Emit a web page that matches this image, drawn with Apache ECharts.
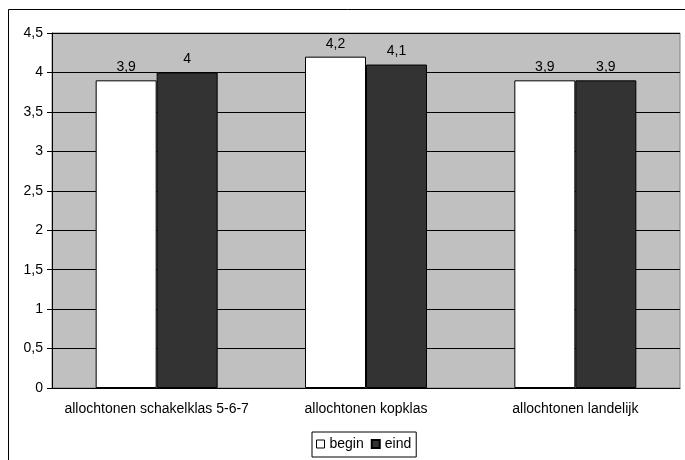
<!DOCTYPE html>
<html><head><meta charset="utf-8">
<script src="https://cdn.jsdelivr.net/npm/echarts@6/dist/echarts.min.js"></script>
<style>html,body{margin:0;padding:0;background:#fff}#c{width:685px;height:460px}</style>
</head><body><div id="c"></div>
<script>
const categories = ['allochtonen schakelklas 5-6-7', 'allochtonen kopklas', 'allochtonen landelijk'];
const beginValues = [3.9, 4.2, 3.9];
const eindValues = [4.0, 4.1, 3.9];
const seriesNames = ['begin', 'eind'];

const fmt = v => String(v).replace('.', ',');
const font = 'Liberation Sans, Arial, sans-serif';
const fs = 14;
const chart = echarts.init(document.getElementById('c'), null, {renderer: 'canvas'});
chart.setOption({
  animation: false,
  backgroundColor: '#fff',
  textStyle: {fontFamily: font},
  graphic: [{type: 'rect', shape: {x: 8.5, y: 9.5, width: 800, height: 600}, style: {fill: 'none', stroke: '#000', lineWidth: 1}, z: 0}],
  grid: {left: 52, right: 5, top: 33, bottom: 72, show: true, backgroundColor: '#c0c0c0', borderColor: '#808080', borderWidth: 1},
  legend: {
    top: 432, left: 312,
    data: [{name: 'begin', icon: 'rect', itemStyle: {color: '#fff', borderColor: '#000', borderWidth: 1}}, {name: 'eind', icon: 'rect'}],
    itemWidth: 8, itemHeight: 8, itemGap: 7,
    borderColor: '#000', borderWidth: 1, padding: [5, 5, 6, 4],
    textStyle: {fontSize: fs, color: '#000', fontFamily: font, padding: [0, 0, 0, 0]}
  },
  xAxis: {
    type: 'category', data: categories,
    axisLine: {lineStyle: {color: '#000'}},
    axisTick: {show: false},
    axisLabel: {color: '#000', fontSize: fs, margin: 14, interval: 0, fontFamily: font}
  },
  yAxis: {
    type: 'value', min: 0, max: 4.5, interval: 0.5,
    axisLine: {show: true, lineStyle: {color: '#000'}},
    axisTick: {show: true, length: 5, lineStyle: {color: '#000'}},
    axisLabel: {color: '#000', fontSize: fs, margin: 9, formatter: fmt, fontFamily: font},
    splitLine: {lineStyle: {color: '#000', width: 1}}
  },
  series: [
    {name: seriesNames[0], type: 'bar', data: beginValues, barWidth: 61, barGap: '0%',
     itemStyle: {color: '#fff', borderColor: '#000', borderWidth: 1},
     label: {show: true, position: 'top', distance: 6, color: '#000', fontSize: fs, formatter: p => fmt(p.value), fontFamily: font}},
    {name: seriesNames[1], type: 'bar', data: eindValues, barWidth: 61, barGap: '0%',
     itemStyle: {color: '#333333', borderColor: '#000', borderWidth: 1},
     label: {show: true, position: 'top', distance: 6, color: '#000', fontSize: fs, formatter: p => fmt(p.value), fontFamily: font}}
  ]
});
</script></body></html>
